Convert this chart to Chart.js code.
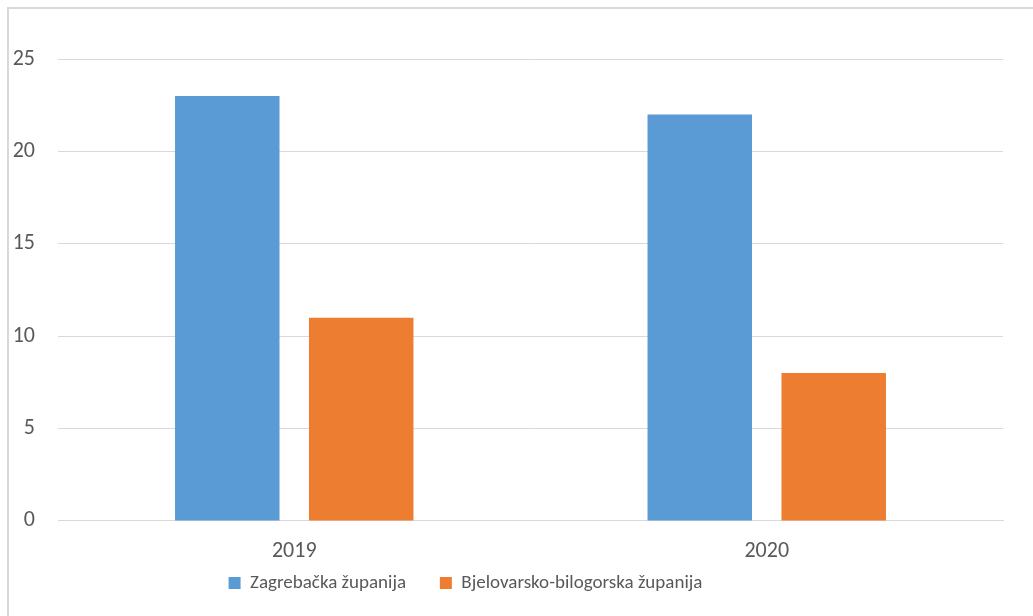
<!DOCTYPE html>
<html>
<head>
<meta charset="utf-8">
<script src="https://cdn.jsdelivr.net/npm/chart.js@4"></script>
<style>
  html, body { margin: 0; padding: 0; background: #fff; overflow: hidden; }
  #wrap { position: relative; width: 1033px; height: 616px; }
  #frame { position: absolute; left: 7px; top: 7px; width: 1040px; height: 620px; border: 2px solid #d9d9d9; box-sizing: border-box; }
  canvas { position: absolute; left: 0; top: 0; }
</style>
</head>
<body>
<div id="wrap">
  <div id="frame"></div>
  <canvas id="chart" width="1033" height="616"></canvas>
</div>
<script>
// --- DATA ---
const years = ['2019', '2020'];
const zagrebacka = [23, 22];
const bjelovarsko = [11, 8];
const seriesNames = ['Zagrebačka županija', 'Bjelovarsko-bilogorska županija'];
const yTicks = [0, 5, 10, 15, 20, 25];

const textColor = '#595959', gridColor = '#d9d9d9';
const fontFamily = 'Carlito, Lato, "Open Sans", sans-serif';

// legend sits a little left of centre in the original
const legendShift = {
    id: 'legendShift',
    afterLayout(chart) {
        chart.legend.left -= 36;
        chart.legend.right -= 36;
    }
};

document.addEventListener('DOMContentLoaded', () => {
    new Chart(document.getElementById('chart').getContext('2d'), {
        type: 'bar',
        data: {
            labels: years,
            datasets: [
                { label: seriesNames[0], data: zagrebacka, backgroundColor: '#5b9bd5' },
                { label: seriesNames[1], data: bjelovarsko, backgroundColor: '#ed7d31' }
            ]
        },
        plugins: [legendShift],
        options: {
            responsive: false,
            animation: false,
            layout: { padding: { left: 0, right: 30, top: 59, bottom: 13.6 } },
            categoryPercentage: 0.567,
            barPercentage: 0.78,
            plugins: {
                tooltip: { enabled: false },
                legend: {
                    position: 'bottom',
                    labels: {
                        color: textColor,
                        font: { family: fontFamily, size: 19 },
                        boxWidth: 12, boxHeight: 12,
                        padding: 11,
                        generateLabels: chart => {
                            const items = Chart.defaults.plugins.legend.labels.generateLabels(chart);
                            // extra room after the first entry
                            items[0].text += '\u2003\u2009';
                            return items;
                        }
                    }
                }
            },
            scales: {
                x: {
                    afterFit: scale => { scale.height = 41.5; },
                    grid: { display: false, drawTicks: false },
                    border: { display: true, color: gridColor, width: 1 },
                    ticks: { color: textColor, font: { family: fontFamily, size: 22 }, padding: 17 }
                },
                y: {
                    min: 0, max: 25,
                    afterFit: scale => { scale.width = 58; },
                    afterBuildTicks: scale => { scale.ticks = yTicks.map(v => ({ value: v })); },
                    grid: { color: gridColor, lineWidth: 1, drawTicks: false },
                    border: { display: false },
                    ticks: { color: textColor, font: { family: fontFamily, size: 22 }, padding: 23 }
                }
            }
        }
    });
});
</script>
</body>
</html>
